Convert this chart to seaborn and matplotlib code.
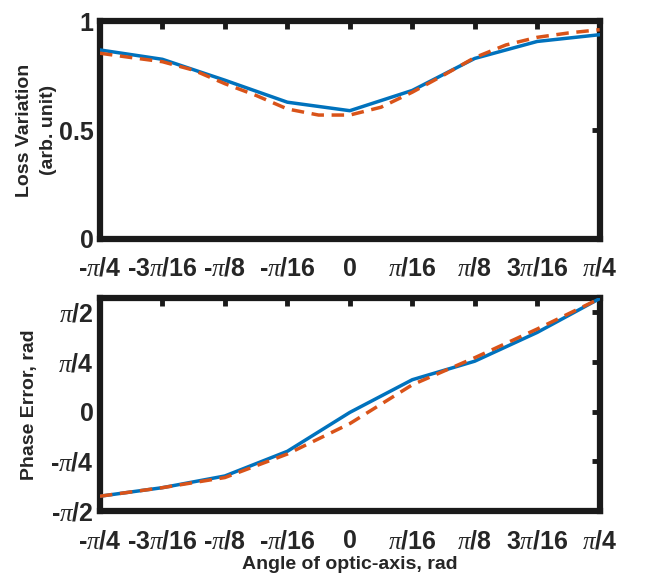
import numpy as np
import pandas as pd
import matplotlib
matplotlib.use("Agg")
import matplotlib.pyplot as plt
import seaborn as sns

PI = np.pi
# angle of optic axis (rad)
angle_blue = [-PI/4, -3*PI/16, -PI/8, -PI/16, 0, PI/16, PI/8, 3*PI/16, PI/4]
loss_blue = [0.868, 0.825, 0.729, 0.628, 0.589, 0.682, 0.829, 0.907, 0.938]
angle_red = [-8*PI/32, -7*PI/32, -6*PI/32, -5*PI/32, -4*PI/32, -3*PI/32, -2*PI/32, -PI/32, 0,
             PI/32, 2*PI/32, 3*PI/32, 4*PI/32, 5*PI/32, 6*PI/32, 7*PI/32, 8*PI/32]
loss_red = [0.853, 0.833, 0.814, 0.775, 0.713, 0.659, 0.597, 0.569, 0.569,
            0.605, 0.674, 0.752, 0.833, 0.891, 0.926, 0.946, 0.961]

phase_blue = [-1.335, -1.20, -1.015, -0.625, -0.01, 0.507, 0.80, 1.255, 1.79]
phase_red = [-1.335, -1.20, -1.04, -0.668, -0.187, 0.427, 0.855, 1.309, 1.79]

xtick_vals = [-PI/4, -3*PI/16, -PI/8, -PI/16, 0, PI/16, PI/8, 3*PI/16, PI/4]
xtick_labels = [r'-$\pi$/4', r'-3$\pi$/16', r'-$\pi$/8', r'-$\pi$/16', '0',
                r'$\pi$/16', r'$\pi$/8', r'3$\pi$/16', r'$\pi$/4']
ytop_vals = [0, 0.5, 1]
ytop_labels = ['0', '0.5', '1']
ybot_vals = [-PI/2, -PI/4, 0, PI/4, PI/2]
ybot_labels = [r'-$\pi$/2', r'-$\pi$/4', '0', r'$\pi$/4', r'$\pi$/2']

sns.set_style("white")
plt.rcParams['font.family'] = ['Liberation Sans', 'DejaVu Sans']
plt.rcParams['mathtext.fontset'] = 'custom'
plt.rcParams['mathtext.it'] = 'Liberation Serif:italic'
plt.rcParams['mathtext.rm'] = 'Liberation Serif'
plt.rcParams['mathtext.default'] = 'it'

BLUE = '#0072BD'
RED = '#D95319'

fig = plt.figure(figsize=(6.49, 5.73), dpi=100)
ax1 = fig.add_axes([0.154, 0.583, 0.770, 0.380])
ax2 = fig.add_axes([0.154, 0.108, 0.770, 0.372])

df_b1 = pd.DataFrame({'x': angle_blue, 'y': loss_blue})
df_r1 = pd.DataFrame({'x': angle_red, 'y': loss_red})
df_b2 = pd.DataFrame({'x': angle_blue, 'y': phase_blue})
df_r2 = pd.DataFrame({'x': angle_blue, 'y': phase_red})

sns.lineplot(data=df_b1, x='x', y='y', ax=ax1, color=BLUE, lw=2.5, zorder=3)
sns.lineplot(data=df_r1, x='x', y='y', ax=ax1, color=RED, lw=2.5, dashes=False,
             linestyle=(0, (3.6, 2.2)), zorder=4)
sns.lineplot(data=df_b2, x='x', y='y', ax=ax2, color=BLUE, lw=2.5, zorder=3)
sns.lineplot(data=df_r2, x='x', y='y', ax=ax2, color=RED, lw=2.5, dashes=False,
             linestyle=(0, (3.6, 2.2)), zorder=4)

for ax in (ax1, ax2):
    ax.set_xlim(-PI/4, PI/4)
    ax.set_xticks(xtick_vals)
    ax.set_xticklabels(xtick_labels)
    for s in ax.spines.values():
        s.set_linewidth(4.5)
        s.set_color('#1a1a1a')
    ax.tick_params(direction='in', length=6, width=3.5, top=True, right=True,
                   labelsize=18, color='#1a1a1a')
    ax.tick_params(axis='x', pad=13)
    ax.tick_params(axis='y', pad=4.5)
    ax.set_xlabel('')

ax1.set_ylim(0, 1)
ax1.set_yticks(ytop_vals)
ax1.set_yticklabels(ytop_labels)
ax1.set_ylabel('Loss Variation\n(arb. unit)', fontsize=14, fontweight='bold',
               linespacing=1.6)
ax1.yaxis.set_label_coords(-0.085, 0.5)

ax2.set_ylim(-PI/2, 1.8)
ax2.set_yticks(ybot_vals)
ax2.set_yticklabels(ybot_labels)
ax2.set_ylabel('Phase Error, rad', fontsize=14, fontweight='bold')
ax2.yaxis.set_label_coords(-0.124, 0.5)
ax2.set_xlabel('Angle of optic-axis, rad', fontsize=14, fontweight='bold', labelpad=2)

for ax in (ax1, ax2):
    for lab in ax.get_xticklabels() + ax.get_yticklabels():
        lab.set_fontweight('bold')

fig.savefig('out.png', dpi=100)
